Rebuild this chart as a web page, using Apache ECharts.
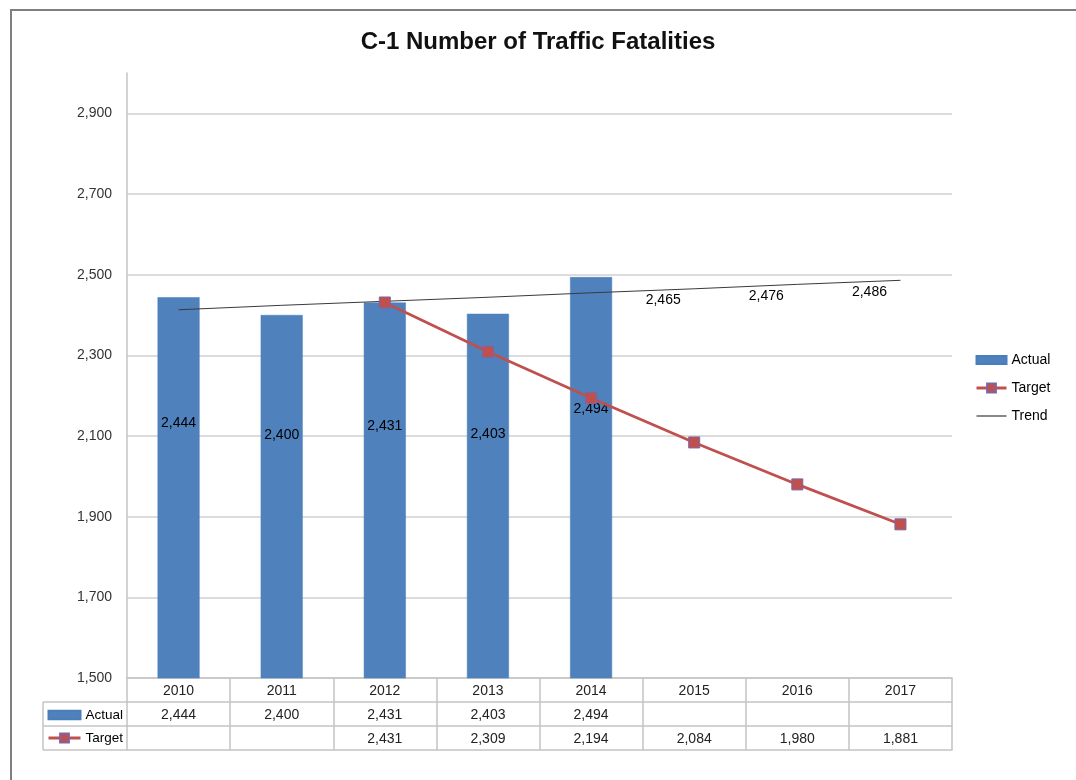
<!DOCTYPE html>
<html>
<head>
<meta charset="utf-8">
<script src="https://cdn.jsdelivr.net/npm/echarts@6/dist/echarts.min.js"></script>
<style>
html,body{margin:0;padding:0;background:#fff;}
#chart{width:1076px;height:780px;}
</style>
</head>
<body>
<div id="chart"></div>
<script>
// ---- data ----
const years = ['2010', '2011', '2012', '2013', '2014', '2015', '2016', '2017'];
const actual = [2444, 2400, 2431, 2403, 2494, null, null, null];
const target = [null, null, 2431, 2309, 2194, 2084, 1980, 1881];
const trend = [2413, 2424, 2434, 2444, 2455, 2465, 2476, 2486];
const yTicks = [1500, 1700, 1900, 2100, 2300, 2500, 2700, 2900];

const fmt = v => (v == null ? '' : v.toLocaleString('en-US'));
const FONT = '"Liberation Sans", Arial, sans-serif';
const GRID_C = '#D0D0D0';
const TABLE_C = '#C4C4C4';
const BAR_ICON = 'path://M0,0 H30 V8 H0 Z';
const CLEAR = 'rgba(0,0,0,0)';

const chart = echarts.init(document.getElementById('chart'), null, {renderer: 'canvas'});

const bottomLine = off => ({
  type: 'category', data: years, gridIndex: 0, position: 'bottom', offset: off,
  axisLine: {show: true, lineStyle: {color: TABLE_C, width: 1.5}},
  axisTick: {show: false}, axisLabel: {show: false}, splitLine: {show: false}
});

const legendItems = {
  Actual: {name: 'Actual', icon: BAR_ICON},
  Target: {name: 'Target', lineStyle: {width: 3, color: '#C0504D'}},
  Trend: {name: 'Trend', lineStyle: {width: 1.2, color: '#3A3A3A'},
    itemStyle: {color: CLEAR, borderColor: CLEAR, borderWidth: 0}}
};

const option = {
  backgroundColor: '#fff',
  animation: false,
  textStyle: {fontFamily: FONT},
  title: {
    text: 'C-1 Number of Traffic Fatalities',
    left: 'center', top: 25,
    textStyle: {fontFamily: FONT, fontWeight: 'bold', fontSize: 24, color: '#111'}
  },
  grid: {left: 127, right: 124, top: 73, bottom: 102, containLabel: false},
  legend: [
    {
      orient: 'vertical', left: 970, top: 348,
      itemWidth: 30, itemHeight: 11, itemGap: 14,
      symbolKeepAspect: true,
      textStyle: {fontFamily: FONT, fontSize: 14, color: '#000'},
      data: [legendItems.Actual, legendItems.Target, legendItems.Trend]
    },
    {
      orient: 'vertical', left: 42, top: 703,
      itemWidth: 32, itemHeight: 11, itemGap: 9,
      symbolKeepAspect: true,
      textStyle: {fontFamily: FONT, fontSize: 13.5, color: '#000'},
      data: [legendItems.Actual, legendItems.Target]
    }
  ],
  xAxis: [
    {
      type: 'category', data: years, boundaryGap: true,
      axisLine: {show: true, lineStyle: {color: TABLE_C, width: 1.5}},
      axisTick: {show: true, length: 72, lineStyle: {color: TABLE_C, width: 1.5}},
      splitLine: {show: false},
      axisLabel: {
        interval: 0, margin: 1, verticalAlign: 'top',
        fontFamily: FONT, fontSize: 14, color: '#222', lineHeight: 24,
        formatter: (v, i) => v + '\n' + (fmt(actual[i]) || ' ') + '\n' + (fmt(target[i]) || ' ')
      }
    },
    bottomLine(24), bottomLine(48), bottomLine(72)
  ],
  yAxis: {
    type: 'value', min: 1500, max: 3000, interval: 100,
    axisLine: {show: true, lineStyle: {color: TABLE_C, width: 1.5}},
    axisTick: {show: false},
    axisLabel: {
      margin: 15, fontFamily: FONT, fontSize: 14, color: '#333',
      formatter: v => (yTicks.includes(v) ? fmt(v) : '')
    },
    splitLine: {show: true, lineStyle: {color: [GRID_C, CLEAR], width: 1.5}}
  },
  graphic: [
    {type: 'rect', silent: true, z: 100, shape: {x: 11, y: 10, width: 1200, height: 900},
      style: {fill: null, stroke: '#7F7F7F', lineWidth: 2}},
    {type: 'line', silent: true, shape: {x1: 43, y1: 702, x2: 127, y2: 702}, style: {stroke: TABLE_C, lineWidth: 1.5}},
    {type: 'line', silent: true, shape: {x1: 43, y1: 726, x2: 127, y2: 726}, style: {stroke: TABLE_C, lineWidth: 1.5}},
    {type: 'line', silent: true, shape: {x1: 43, y1: 750, x2: 127, y2: 750}, style: {stroke: TABLE_C, lineWidth: 1.5}},
    {type: 'line', silent: true, shape: {x1: 43, y1: 702, x2: 43, y2: 750}, style: {stroke: TABLE_C, lineWidth: 1.5}}
  ],
  series: [
    {
      name: 'Actual', type: 'bar', barWidth: 42, z: 2,
      data: actual,
      itemStyle: {color: '#4F81BD', borderColor: '#4A7EBB', borderWidth: 0.5},
      label: {
        show: true, position: ['50%', '33%'], align: 'center', verticalAlign: 'middle',
        fontFamily: FONT, fontSize: 14, color: '#000',
        formatter: p => fmt(p.value)
      }
    },
    {
      name: 'Target', type: 'line', z: 4,
      data: target,
      symbol: 'rect', symbolSize: 11,
      lineStyle: {color: '#C0504D', width: 2.75},
      itemStyle: {color: '#C0504D', borderColor: '#7E64A6', borderWidth: 1}
    },
    {
      name: 'Trend', type: 'line', z: 3,
      data: trend.map((v, i) => ({
        value: v,
        label: {show: actual[i] == null}
      })),
      symbol: 'circle', symbolSize: 1, showSymbol: true,
      lineStyle: {color: '#3A3A3A', width: 1},
      itemStyle: {color: CLEAR, borderColor: CLEAR, borderWidth: 0},
      label: {
        show: false, position: 'bottom', distance: 4, offset: [-31, 0],
        fontFamily: FONT, fontSize: 14, color: '#000',
        formatter: p => fmt(p.value)
      }
    }
  ]
};
chart.setOption(option);
</script>
</body>
</html>
